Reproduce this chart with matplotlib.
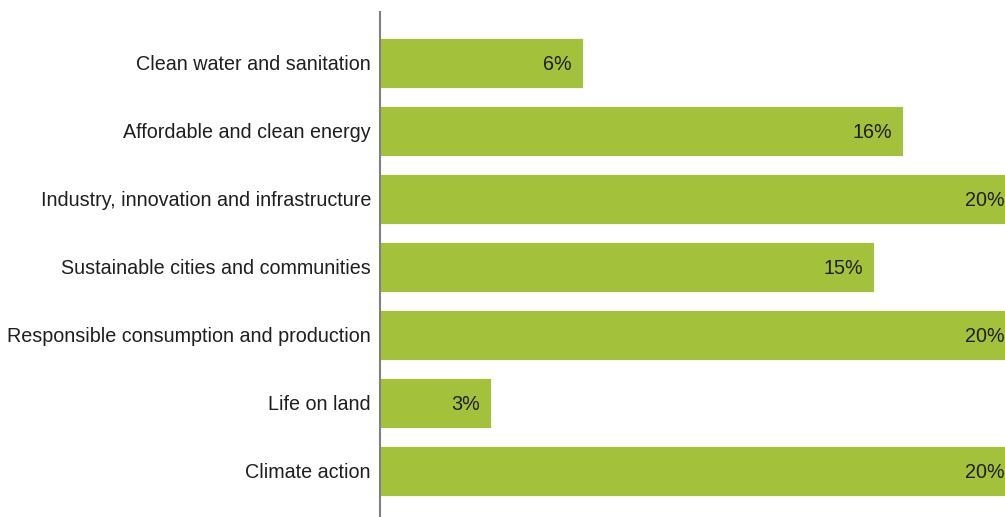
import matplotlib.pyplot as plt
import numpy as np

# goals and share of investment (%)
goals = ['Clean water and sanitation',
         'Affordable and clean energy',
         'Industry, innovation and infrastructure',
         'Sustainable cities and communities',
         'Responsible consumption and production',
         'Life on land',
         'Climate action']
shares = [6.23, 16.05, 19.5, 15.15, 19.5, 3.4, 19.5]

plt.rcParams['font.family'] = ['Liberation Sans', 'DejaVu Sans']

fig = plt.figure(figsize=(10.05, 5.17), dpi=100)
ax = fig.add_axes([380 / 1005, 0, 625 / 1005, 505 / 517])

y = np.arange(len(goals))
ax.barh(y, shares, height=0.735, color='#A3C13B', edgecolor='white', linewidth=0.6)

for yi, v in zip(y, shares):
    ax.annotate('%.0f%%' % v, xy=(v, yi), xytext=(-8, -1), textcoords='offset points',
                ha='right', va='center', fontsize=14.2, color='#1f1f1f',
                annotation_clip=False)

ax.set_xlim(0, 625 / 32.6)
ax.set_ylim(6 + 46 / 68, -51 / 68)
ax.set_yticks(y)
ax.set_yticklabels(goals, fontsize=14.2, color='#1f1f1f')
ax.tick_params(axis='y', length=0, pad=6.5)
ax.set_xticks([])

for s in ['top', 'right', 'bottom']:
    ax.spines[s].set_visible(False)
ax.spines['left'].set_color('#808080')
ax.spines['left'].set_linewidth(1.5)

fig.savefig('out.png', dpi=100)
